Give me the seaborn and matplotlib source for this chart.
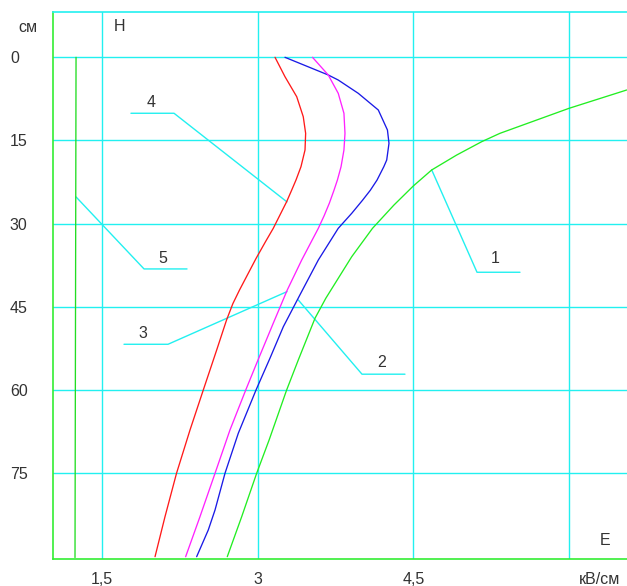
import matplotlib
matplotlib.use("Agg")
import matplotlib.pyplot as plt
import seaborn as sns
import pandas as pd

# ---- data (E in kV/cm, H in cm) ----
curve1_E = [6.555, 5.999, 5.334, 5.158, 4.917, 4.676, 4.499, 4.313, 4.106, 3.906, 3.656, 3.552, 3.391, 3.279, 3.110, 2.990, 2.846, 2.707]
curve1_H = [5.90, 9.21, 13.72, 15.23, 17.64, 20.34, 23.23, 26.66, 30.87, 35.99, 43.50, 47.11, 54.64, 60.05, 69.08, 75.09, 82.92, 90.14]

curve2_E = [3.263, 3.680, 3.776, 3.969, 4.162, 4.250, 4.265, 4.243, 4.215, 4.150, 4.085, 4.010, 3.906, 3.776, 3.584, 3.412, 3.247, 3.118, 2.984, 2.813, 2.685, 2.589, 2.524, 2.412]
curve2_H = [0.0, 3.19, 4.10, 6.50, 9.51, 13.12, 15.52, 18.54, 19.75, 22.15, 24.0, 25.8, 28.16, 30.87, 36.59, 42.70, 48.63, 54.33, 60.05, 67.87, 75.09, 81.71, 85.32, 90.14]

curve3_E = [3.528, 3.680, 3.776, 3.831, 3.841, 3.831, 3.803, 3.768, 3.735, 3.690, 3.640, 3.584, 3.424, 3.285, 3.150, 2.990, 2.885, 2.733, 2.589, 2.444, 2.306]
curve3_H = [0.0, 3.19, 6.50, 10.11, 13.72, 16.73, 19.75, 22.15, 24.0, 26.35, 28.6, 30.87, 36.59, 42.0, 48.0, 55.23, 60.05, 67.27, 75.09, 82.92, 90.14]

curve4_E = [3.167, 3.263, 3.376, 3.439, 3.462, 3.456, 3.417, 3.369, 3.328, 3.279, 3.150, 3.075, 2.985, 2.825, 2.760, 2.700, 2.605, 2.476, 2.348, 2.218, 2.107, 2.011]
curve4_H = [0.0, 3.50, 7.11, 10.72, 13.72, 16.73, 19.75, 22.15, 23.95, 26.06, 30.87, 33.29, 36.28, 42.0, 44.5, 47.42, 52.83, 60.05, 67.27, 75.09, 82.92, 90.14]

curve5_E = [1.250, 1.240]
curve5_H = [0.0, 90.3]

curve_names = ["1", "2", "3", "4", "5"]
curve_colors = ["#22ee22", "#1a1ae6", "#ff22ff", "#ff1a1a", "#22dd22"]

# leader lines for the curve labels
leader_E = {"1": [4.676, 5.113, 5.527], "2": [3.391, 4.005, 4.419], "3": [3.282, 2.136, 1.712],
            "4": [3.282, 2.194, 1.779], "5": [1.250, 1.905, 2.319]}
leader_H = {"1": [20.3, 38.8, 38.8], "2": [43.8, 57.2, 57.2], "3": [42.3, 51.8, 51.8],
            "4": [26.1, 10.1, 10.1], "5": [25.2, 38.2, 38.2]}
label_E = {"1": 5.286, "2": 4.198, "3": 1.895, "4": 1.972, "5": 2.088}
label_H = {"1": 36.4, "2": 55.0, "3": 49.8, "4": 8.1, "5": 36.3}

x_ticks = [1.5, 3, 4.5]
x_tick_labels = ["1,5", "3", "4,5"]
x_grid = [1.5, 3, 4.5, 6]
y_ticks = [0, 15, 30, 45, 60, 75]
y_tick_labels = ["0", "15", "30", "45", "60", "75"]

# ---- build table ----
rows = []
for name, Es, Hs in zip(curve_names,
                        [curve1_E, curve2_E, curve3_E, curve4_E, curve5_E],
                        [curve1_H, curve2_H, curve3_H, curve4_H, curve5_H]):
    for i, (e, h) in enumerate(zip(Es, Hs)):
        rows.append({"curve": name, "E": e, "H": h, "i": i})
df = pd.DataFrame(rows)

sns.set_style("white")
plt.rcParams["font.family"] = ["Liberation Sans", "DejaVu Sans"]

fig = plt.figure(figsize=(6.27, 5.86), dpi=100)
ax = fig.add_axes([53 / 627, 27 / 586, (627 - 53) / 627, (559 - 12) / 586])

cyan = "#22f0f0"
green = "#33ee33"
txt = "#333333"

for xv in x_grid:
    ax.axvline(xv, color=cyan, lw=1.0, zorder=1)
for yv in y_ticks:
    ax.axhline(yv, color=cyan, lw=1.0, zorder=1)

sns.lineplot(data=df, x="E", y="H", hue="curve", palette=dict(zip(curve_names, curve_colors)),
             sort=False, estimator=None, legend=False, linewidth=0.95, ax=ax, zorder=3)
for line in ax.get_lines():
    line.set_solid_joinstyle("round")

for n in curve_names:
    ax.plot(leader_E[n], leader_H[n], color=cyan, lw=1.0, zorder=2)
    ax.text(label_E[n], label_H[n], n, ha="center", va="center", fontsize=11.5, color=txt)

ax.text(1.673, -5.5, "H", ha="center", va="center", fontsize=11.5, color=txt)
ax.text(6.346, 87.3, "E", ha="center", va="center", fontsize=11.5, color=txt)
fig.text(27.5 / 627, 1 - 27 / 586, "см", ha="center", va="center", fontsize=11.5, color=txt)
fig.text(600 / 627, 1 - 579 / 586, "кВ/см", ha="center", va="center", fontsize=11.5, color=txt)

ax.set_xlim(1.028, 6.558)
ax.set_ylim(90.56, -8.18)
ax.set_xticks(x_ticks)
ax.set_xticklabels(x_tick_labels)
ax.set_yticks(y_ticks)
ax.set_yticklabels(y_tick_labels)
ax.tick_params(axis="both", length=0, labelsize=11.5, labelcolor=txt)
ax.tick_params(axis="x", pad=9)
ax.tick_params(axis="y", pad=31)
for lab in ax.get_yticklabels():
    lab.set_horizontalalignment("left")
ax.set_xlabel("")
ax.set_ylabel("")

ax.spines["right"].set_visible(False)
ax.spines["left"].set_color(green)
ax.spines["bottom"].set_color(green)
ax.spines["top"].set_color(cyan)
for s in ["left", "bottom", "top"]:
    ax.spines[s].set_linewidth(1.2)
    ax.spines[s].set_zorder(4)

fig.savefig("out.png", dpi=100)
